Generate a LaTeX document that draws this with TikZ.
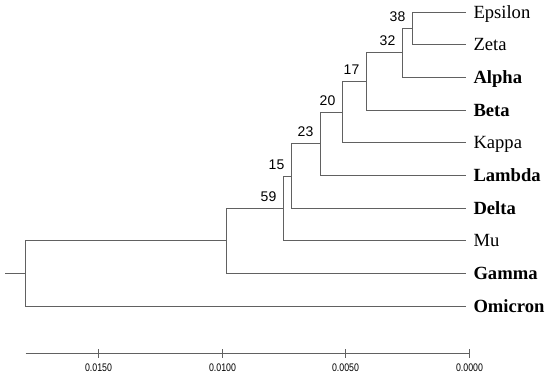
\documentclass[tikz,border=0pt]{standalone}
\usepackage{fontspec}
\setmainfont{Liberation Serif}
\newfontfamily\labsans{Liberation Sans}
\begin{document}
\begin{tikzpicture}[x=1pt,y=-1pt,
  branch/.style={draw=black!62,line width=1.05pt},
  leaf/.style={anchor=base west,inner sep=0pt,font=\fontsize{18.6}{20}\selectfont},
  bleaf/.style={leaf,font=\fontsize{18.6}{20}\selectfont\bfseries},
  boot/.style={anchor=base east,inner sep=0pt,font=\labsans\fontsize{14}{15}\selectfont},
  ticklab/.style={inner sep=0pt,font=\labsans\fontsize{11}{12}\selectfont}]
\useasboundingbox (0,0) rectangle (550,378);
% leaf tips
\coordinate (teps) at (465.5,12.5);
\coordinate (tzet) at (465.5,44.5);
\coordinate (talp) at (465.5,77.5);
\coordinate (tbet) at (465.5,110.5);
\coordinate (tkap) at (465.5,142.5);
\coordinate (tlam) at (465.5,175.5);
\coordinate (tdel) at (465.5,208.5);
\coordinate (tmu)  at (465.5,240.5);
\coordinate (tgam) at (465.5,273.5);
\coordinate (tomi) at (465.5,306.5);
% leaf labels
\node[leaf]  (leps) at (473.3,18.5) {Epsilon};
\node[leaf]  (lzet) at (473.3,50.5) {Zeta};
\node[bleaf] (lalp) at (473.3,83.5) {Alpha};
\node[bleaf] (lbet) at (473.3,116.5) {Beta};
\node[leaf]  (lkap) at (473.3,148.5) {Kappa};
\node[bleaf] (llam) at (473.3,181.5) {Lambda};
\node[bleaf] (ldel) at (473.3,214.5) {Delta};
\node[leaf]  (lmu)  at (473.3,246.5) {Mu};
\node[bleaf] (lgam) at (473.3,279.5) {Gamma};
\node[bleaf] (lomi) at (473.3,312.5) {Omicron};
% internal nodes
\coordinate (n38) at (412.5,28.5);
\coordinate (n32) at (402.5,52.5);
\coordinate (n17) at (366.5,81.5);
\coordinate (n20) at (342.5,112.5);
\coordinate (n23) at (320.5,143.5);
\coordinate (n15) at (291.5,176.5);
\coordinate (n59) at (283.5,208.5);
\coordinate (ngam) at (226.5,240.5);
\coordinate (nroot) at (25.5,273.5);
\coordinate (stem) at (5,273.5);
% branches
\draw[branch] (teps) -| (n38 |- tzet) -- (tzet);
\draw[branch] (n38) -| (n32 |- talp) -- (talp);
\draw[branch] (n32) -| (n17 |- tbet) -- (tbet);
\draw[branch] (n17) -| (n20 |- tkap) -- (tkap);
\draw[branch] (n20) -| (n23 |- tlam) -- (tlam);
\draw[branch] (n23) -| (n15 |- tdel) -- (tdel);
\draw[branch] (n15) -| (n59 |- tmu) -- (tmu);
\draw[branch] (n59) -| (ngam |- tgam) -- (tgam);
\draw[branch] (ngam) -| (nroot |- tomi) -- (tomi);
\draw[branch] (stem) -- (nroot);
% bootstrap values
\node[boot] (b38) at ([shift={(-7,-7)}]n38) {38};
\node[boot] (b32) at ([shift={(-7,-7)}]n32) {32};
\node[boot] (b17) at ([shift={(-7,-7)}]n17) {17};
\node[boot] (b20) at ([shift={(-7,-7)}]n20) {20};
\node[boot] (b23) at ([shift={(-7,-7)}]n23) {23};
\node[boot] (b15) at ([shift={(-7,-7)}]n15) {15};
\node[boot] (b59) at ([shift={(-7,-7)}]n59) {59};
% scale axis
\coordinate (ax0) at (25.5,353.5);
\coordinate (ax1) at (469.5,353.5);
\draw[branch] (ax0) -- (ax1);
\foreach \x/\t in {98.5/0.0150,222.5/0.0100,345.5/0.0050,469.5/0.0000}{
  \draw[branch] (\x,349) -- (\x,358);
  \node[ticklab] at (\x,367.7) {\scalebox{0.8}[1]{\t}};
}
\end{tikzpicture}
\end{document}
